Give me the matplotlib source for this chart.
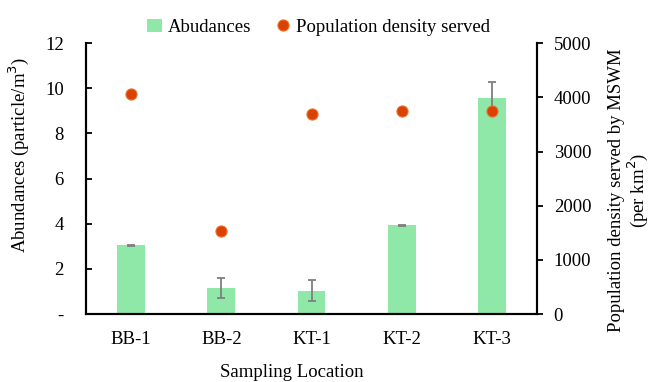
import matplotlib
matplotlib.use("Agg")
import matplotlib.pyplot as plt
import numpy as np
from matplotlib.ticker import FuncFormatter

plt.rcParams['font.family'] = ['Liberation Serif', 'DejaVu Serif']

# data
locations = ["BB-1", "BB-2", "KT-1", "KT-2", "KT-3"]
abundances = [3.05, 1.16, 1.04, 3.94, 9.56]
abundance_err = [0.02, 0.44, 0.46, 0.02, 0.70]
pop_density = [4060, 1530, 3690, 3745, 3750]

fs = 13.5

fig = plt.figure(figsize=(6.51, 3.82), dpi=100)
ax = fig.add_axes([0.132, 0.178, 0.693, 0.709])
ax2 = ax.twinx()

x = np.arange(len(locations))
bars = ax.bar(x, abundances, width=0.31, color='#90E8A8', label='Abudances',
              yerr=abundance_err, error_kw=dict(ecolor='#7f7f7f', elinewidth=1.3,
                                                capsize=3, capthick=1.3))
dots, = ax2.plot(x, pop_density, 'o', color='#D94200', markeredgecolor='#EE7030',
                 markeredgewidth=0.8, markersize=8, linestyle='none',
                 label='Population density served')

ax.set_xlim(-0.5, 4.5)
ax.set_ylim(0, 12)
ax.set_yticks(range(0, 13, 2))
ax.yaxis.set_major_formatter(FuncFormatter(lambda v, p: '-' if v == 0 else f'{v:.0f}'))
ax2.set_ylim(0, 5000)
ax2.set_yticks(range(0, 5001, 1000))

ax.set_xticks(x)
ax.set_xticklabels(locations)

for a in (ax, ax2):
    a.spines['top'].set_visible(False)
    a.spines['left'].set_linewidth(1.5)
    a.spines['right'].set_linewidth(1.5)
    a.spines['bottom'].set_linewidth(1.5)

ax.tick_params(axis='y', direction='in', length=4, width=1.3, labelsize=fs, pad=16)
ax.tick_params(axis='x', length=0, labelsize=fs, pad=12)
ax2.tick_params(axis='y', direction='out', length=4, width=1.3, labelsize=fs, pad=8)

ax.set_ylabel('Abundances (particle/m$^3$)', fontsize=fs)
ax.yaxis.set_label_coords(-0.122, 0.587)
ax.set_xlabel('Sampling Location', fontsize=fs)
ax.xaxis.set_label_coords(0.457, -0.183)
ax2.set_ylabel('Population density served by MSWM\n(per km$^2$)', fontsize=fs,
               linespacing=1.0)
ax2.yaxis.set_label_coords(1.158, 0.457)

fig.legend(handles=[bars, dots], labels=['Abudances', 'Population density served'],
           loc='upper center', bbox_to_anchor=(0.49, 0.995), ncol=2, frameon=False,
           fontsize=fs, handlelength=0.8, handletextpad=0.3, columnspacing=1.3)

fig.savefig('out.png', dpi=100)
